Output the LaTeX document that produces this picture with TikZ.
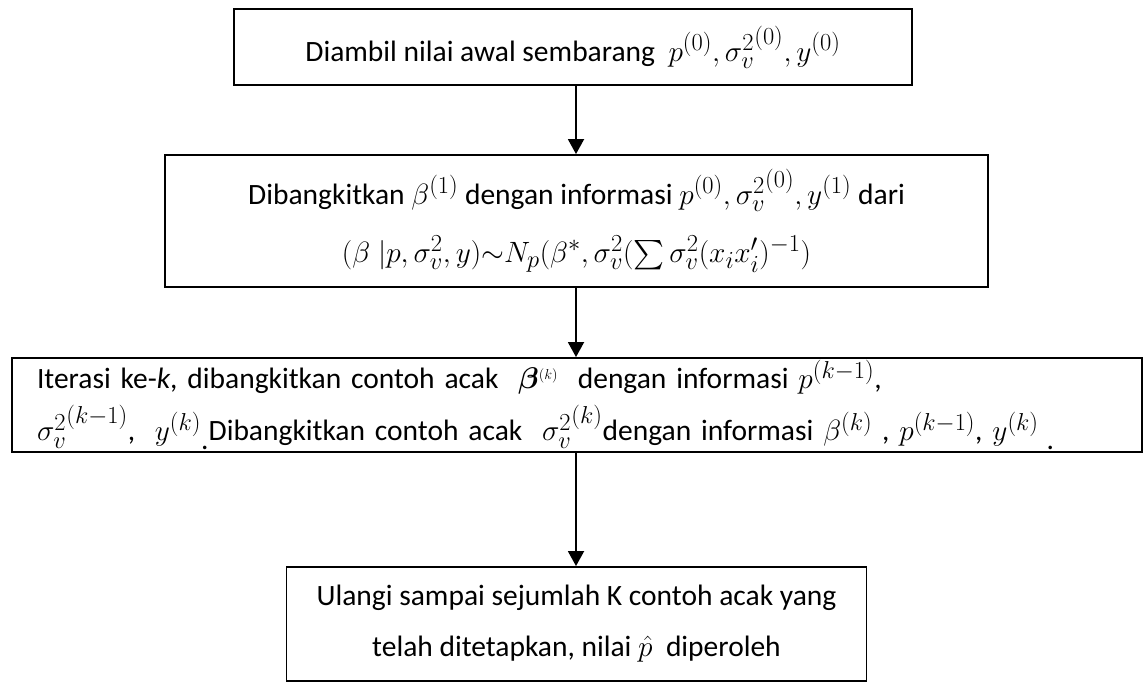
\documentclass[tikz,border=0pt]{standalone}
\usepackage{amsmath}
\usepackage{fontspec}
\setmainfont{Carlito}
\usetikzlibrary{arrows.meta}
\newcommand{\mth}[1]{\scalebox{1.18}{$#1$}}
\tikzset{
  flowbox/.style={draw=black, line width=1.9pt, inner sep=0pt, align=center,
    font=\fontsize{29.5}{36}\selectfont},
  flowarrow/.style={-{Triangle[width=16pt,length=15pt]}, line width=1.9pt, draw=black}
}
\begin{document}
\begin{tikzpicture}[x=1pt,y=-1pt]
\useasboundingbox (0,0) rectangle (1147,688);
\node[flowbox, minimum width=678pt, minimum height=76pt] (b1) at (573,47)
  {Diambil nilai awal sembarang\ \ \mth{p^{(0)},{\sigma_v^2}^{(0)},y^{(0)}}};
\node[flowbox, minimum width=823pt, minimum height=132pt] (b2) at (576.5,221)
  {Dibangkitkan \mth{\beta^{(1)}} dengan informasi \mth{p^{(0)},{\sigma_v^2}^{(0)},y^{(1)}} dari\\[22pt]
   \mth{(\beta\ |p,\sigma_v^2,y){\sim}N_p(\beta^*,\sigma_v^2(\sum\sigma_v^2(x_ix_i')^{-1})}};
\node[flowbox, minimum width=1130pt, minimum height=94pt, text width=1080pt, align=left] (b3) at (577,405)
  {Iterasi ke-\textit{k}, dibangkitkan contoh acak\ \ \scalebox{1.2}{$\boldsymbol{\beta}$}$^{\scriptscriptstyle(k)}$\ \ dengan informasi \mth{p^{(k-1)}},\\[10pt]
   \mth{{\sigma_v^2}^{(k-1)}},\ \ \mth{y^{(k)}}\raisebox{-9pt}{.}Dibangkitkan contoh acak\ \ \mth{{\sigma_v^2}^{(k)}}dengan informasi \mth{\beta^{(k)}} , \mth{p^{(k-1)}}, \mth{y^{(k)}}\hspace{8pt}\raisebox{-9pt}{.}};
\node[flowbox, minimum width=580pt, minimum height=114pt] (b4) at (576.5,624)
  {Ulangi sampai sejumlah K contoh acak yang\\[15pt]
   telah ditetapkan, nilai \mth{\hat{p}}\ \ diperoleh};
\coordinate (ax) at (576,0);
\draw[flowarrow] (b1.south -| ax) -- (b2.north -| ax);
\draw[flowarrow] (b2.south -| ax) -- (b3.north -| ax);
\draw[flowarrow] (b3.south -| ax) -- (b4.north -| ax);
\end{tikzpicture}
\end{document}
